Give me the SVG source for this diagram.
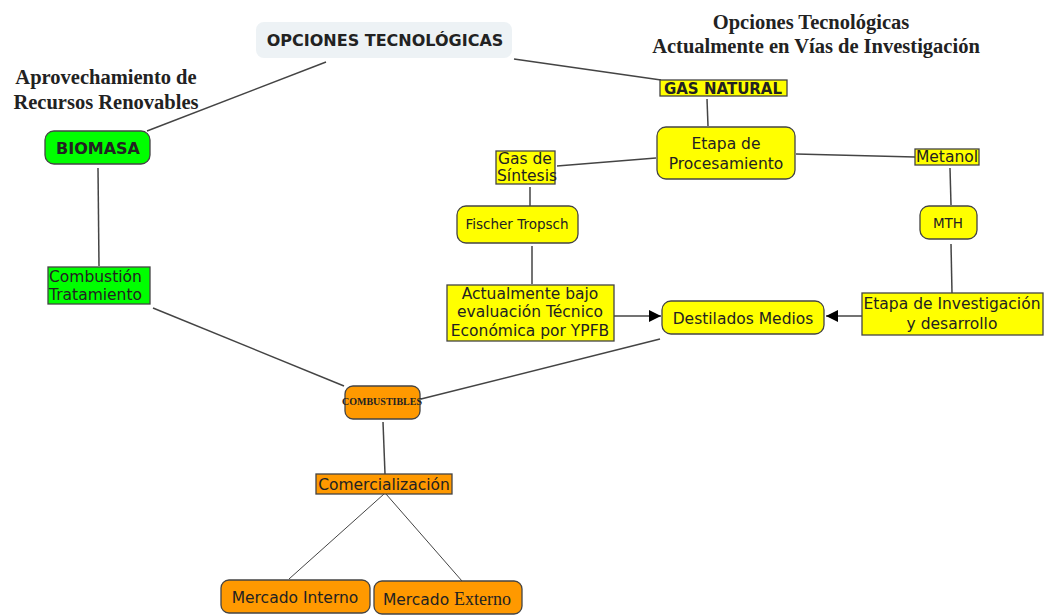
<svg xmlns="http://www.w3.org/2000/svg" width="1044" height="615" viewBox="0 0 1044 615">
<defs>
<style>
.t{font-family:"DejaVu Sans",Verdana,sans-serif;font-size:15.5px;fill:#222;text-anchor:middle}
.l{text-anchor:start}
.b{font-weight:bold}
.s{font-size:13.5px}
.h{font-family:"Liberation Serif","Times New Roman",serif;font-weight:bold;font-size:20.5px;fill:#222;text-anchor:middle}
.y{fill:#ffff00;stroke:#444;stroke-width:1.3}
.g{fill:#00ff00;stroke:#444;stroke-width:1.3}
.o{fill:#ff9900;stroke:#444;stroke-width:1.3}
.c line{stroke:#444;stroke-width:1.5}
</style>
<marker id="ah" viewBox="0 0 10 10" refX="10" refY="5" markerWidth="12" markerHeight="12" markerUnits="userSpaceOnUse" orient="auto">
<path d="M0,0 L10,5 L0,10 z" fill="#000"/>
</marker>
</defs>
<rect width="1044" height="615" fill="#fff"/>
<g id="titles">
<text class="h" x="106" y="84">Aprovechamiento de</text>
<text class="h" x="106" y="109">Recursos Renovables</text>
<text class="h" x="811" y="29">Opciones Tecnológicas</text>
<text class="h" x="816" y="53">Actualmente en Vías de Investigación</text>
</g>
<g class="c" id="connectors">
<line x1="326" y1="62" x2="147" y2="131"/>
<line x1="514" y1="59" x2="661" y2="80"/>
<line x1="707" y1="99" x2="708" y2="126"/>
<line x1="557" y1="166" x2="656" y2="158"/>
<line x1="796" y1="154" x2="915" y2="157"/>
<line x1="950" y1="168" x2="951" y2="205"/>
<line x1="951" y1="244" x2="952" y2="293"/>
<line x1="530" y1="187" x2="530" y2="206"/>
<line x1="532" y1="246" x2="532" y2="284"/>
<line x1="588" y1="316" x2="661" y2="316" marker-end="url(#ah)"/>
<line x1="862" y1="316" x2="826" y2="316" marker-end="url(#ah)"/>
<line x1="660" y1="339" x2="421" y2="399"/>
<line x1="98" y1="168" x2="99" y2="266"/>
<line x1="153" y1="308" x2="344" y2="386"/>
<line x1="383" y1="422" x2="385" y2="474"/>
<line x1="384" y1="494" x2="289" y2="579" style="stroke-width:1"/>
<line x1="386" y1="494" x2="462" y2="581" style="stroke-width:1"/>
</g>
<g id="opciones">
<rect x="256" y="22" width="256" height="36" rx="8" fill="#edf2f5"/>
<text class="t b" x="385" y="46" style="font-size:16px">OPCIONES TECNOLÓGICAS</text>
</g>
<g id="biomasa">
<rect class="g" x="45" y="131" width="105" height="33" rx="9"/>
<text class="t b" x="98" y="154" style="font-size:16px">BIOMASA</text>
</g>
<g id="combustion">
<rect class="g" x="48" y="267" width="102" height="37"/>
<text class="t l" x="49" y="282">Combustión</text>
<text class="t l" x="49" y="300">Tratamiento</text>
</g>
<g id="gasnatural">
<rect class="y" x="660" y="80" width="127" height="16"/>
<text class="t b" x="723" y="94" style="font-size:15px">GAS NATURAL</text>
</g>
<g id="etapa-procesamiento">
<rect class="y" x="657" y="127" width="138" height="52" rx="9"/>
<text class="t" x="726" y="149">Etapa de</text>
<text class="t" x="726" y="169">Procesamiento</text>
</g>
<g id="gas-sintesis">
<rect class="y" x="496" y="151" width="59" height="33"/>
<text class="t l" x="498" y="164">Gas de</text>
<text class="t l" x="497" y="181">Síntesis</text>
</g>
<g id="metanol">
<rect class="y" x="915" y="149" width="64" height="16"/>
<text class="t" x="947" y="162">Metanol</text>
</g>
<g id="fischer">
<rect class="y" x="457" y="206" width="121" height="37" rx="9"/>
<text class="t s" x="517" y="229">Fischer Tropsch</text>
</g>
<g id="mth">
<rect class="y" x="920" y="206" width="57" height="33" rx="9"/>
<text class="t s" x="948" y="228">MTH</text>
</g>
<g id="actualmente">
<rect class="y" x="447" y="285" width="167" height="56"/>
<text class="t" x="530" y="299">Actualmente bajo</text>
<text class="t" x="530" y="317">evaluación Técnico</text>
<text class="t" x="530" y="336">Económica por YPFB</text>
</g>
<g id="destilados">
<rect class="y" x="662" y="301" width="162" height="33" rx="9"/>
<text class="t" x="743" y="324">Destilados Medios</text>
</g>
<g id="etapa-investigacion">
<rect class="y" x="862" y="293" width="181" height="42"/>
<text class="t" x="952" y="309">Etapa de Investigación</text>
<text class="t" x="952" y="329">y desarrollo</text>
</g>
<g id="combustibles">
<rect class="o" x="345" y="386" width="75" height="33" rx="8"/>
<text x="382" y="405" style="font-family:'Liberation Serif',serif;font-weight:bold;font-size:10px;fill:#222;text-anchor:middle">COMBUSTIBLES</text>
</g>
<g id="comercializacion">
<rect class="o" x="316" y="474" width="136" height="20"/>
<text class="t" x="384" y="490">Comercialización</text>
</g>
<g id="mercado-interno">
<rect class="o" x="221" y="580" width="149" height="33" rx="8"/>
<text class="t" x="295" y="603">Mercado Interno</text>
</g>
<g id="mercado-externo">
<rect class="o" x="374" y="581" width="148" height="33" rx="8"/>
<text class="t" x="447" y="605">Mercado <tspan style="font-family:'Liberation Serif',serif;font-size:18px">Externo</tspan></text>
</g>
</svg>
